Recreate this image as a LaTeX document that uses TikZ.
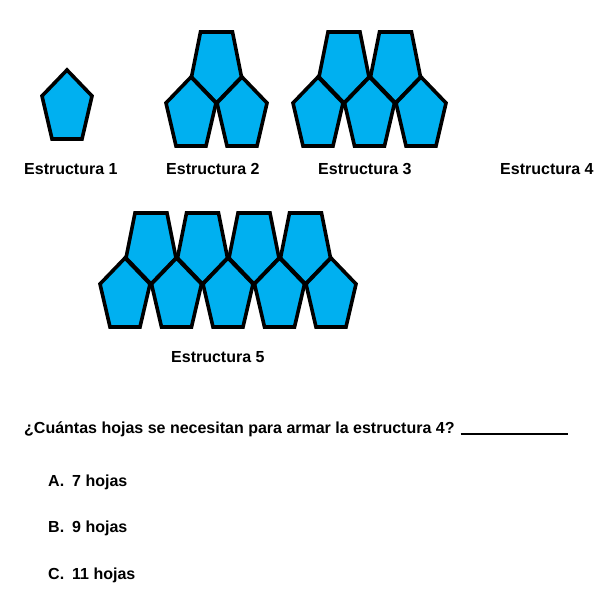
\documentclass[tikz,border=0pt]{standalone}
\usepackage{fontspec}
\setmainfont{Liberation Sans}
\definecolor{hojaazul}{HTML}{00B0F0}
\usepackage{tikz}
\usetikzlibrary{positioning}

% upright sheet, apex at #1 / sheet upside down, lower tip at #1
\newcommand{\hojaarriba}[1]{\draw[hoja] (#1) -- ++(25,26) -- ++(-10,43) -- ++(-30,0) -- ++(-10,-43) -- cycle;}
\newcommand{\hojaabajo}[1]{\draw[hoja] (#1) -- ++(25,-26) -- ++(-9,-45) -- ++(-32,0) -- ++(-9,45) -- cycle;}

\begin{document}
\begin{tikzpicture}[x=1pt, y=-1pt,
    hoja/.style={fill=hojaazul, draw=black, line width=3.6pt, line join=miter},
    etiqueta/.style={anchor=base west, inner sep=0pt, font=\fontsize{16}{19}\selectfont\bfseries}]
  \useasboundingbox (0,0) rectangle (609,603);
  % Estructura 1
  \hojaarriba{67,70}
  % Estructura 2
  \hojaabajo{216.5,103}
  \hojaarriba{191,77}
  \hojaarriba{242,77}
  % Estructura 3
  \hojaabajo{344,103}
  \hojaabajo{395.5,103}
  \hojaarriba{318,77}
  \hojaarriba{369.5,77}
  \hojaarriba{421,77}
  % Estructura 5
  \foreach \x in {151,202.5,254,305.5} {\hojaabajo{\x,284}}
  \foreach \x in {125,176.5,228,279.5,331} {\hojaarriba{\x,258}}
  % labels
  \node[etiqueta] (e1) at (24,174) {Estructura 1};
  \node[etiqueta] (e2) at (166,174) {Estructura 2};
  \node[etiqueta] (e3) at (318,174) {Estructura 3};
  \node[etiqueta] (e4) at (500,174) {Estructura 4};
  \node[etiqueta] (e5) at (171,362) {Estructura 5};
  % question
  \node[etiqueta] (pregunta) at (24,433)
    {¿Cuántas hojas se necesitan para armar la estructura 4? \rule[-1.5pt]{107pt}{1.3pt}};
  \node[etiqueta] (opA) at (48,486) {\makebox[24pt][l]{A.}7 hojas};
  \node[etiqueta] (opB) at (48,532) {\makebox[24pt][l]{B.}9 hojas};
  \node[etiqueta] (opC) at (48,579) {\makebox[24pt][l]{C.}11 hojas};
\end{tikzpicture}
\end{document}
